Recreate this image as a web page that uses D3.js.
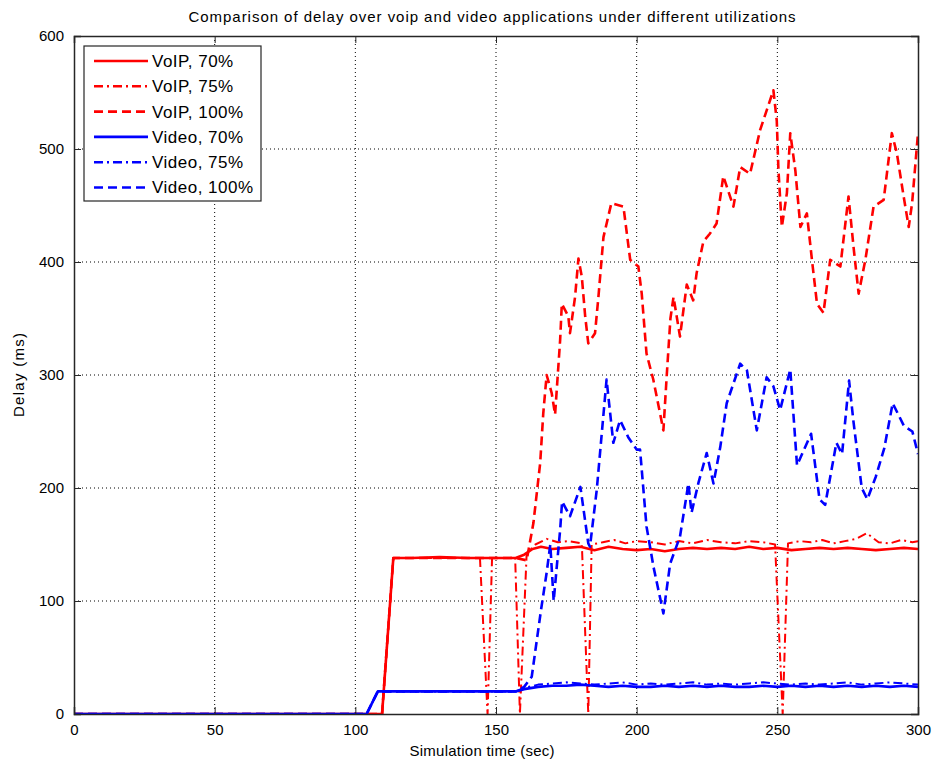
<!DOCTYPE html>
<html>
<head>
<meta charset="utf-8">
<script src="https://cdn.jsdelivr.net/npm/d3@7"></script>
<style>
  body { margin: 0; background: #fff; }
  text { font-family: "Liberation Sans", Arial, sans-serif; fill: #000; }
</style>
</head>
<body>
<div id="chart"></div>
<script>
// ---- data ----
const xTicks = [0, 50, 100, 150, 200, 250, 300];
const yTicks = [0, 100, 200, 300, 400, 500, 600];

const voip70T = [0, 109.5, 113.5, 120, 130, 140, 150, 157, 160, 163, 166, 170, 175, 180, 185, 190, 195, 200, 205, 210, 215, 220, 225, 230, 235, 240, 245, 250, 255, 260, 265, 270, 275, 280, 285, 290, 295, 300];
const voip70V = [0, 0, 138, 138, 139, 138, 138, 138, 141, 146, 148, 146, 147, 148, 145, 148, 146, 145, 146, 144, 146, 147, 146, 147, 146, 148, 146, 147, 145, 146, 147, 146, 147, 146, 145, 146, 147, 146];

const voip75T = [0, 109.5, 113.5, 125, 135, 144.3, 147, 148.6, 155, 156.8, 158.5, 160.9, 164, 168, 172, 176, 180.5, 182.8, 184, 188, 192, 196, 200, 205, 210, 215, 220, 225, 230, 235, 240, 245, 249.2, 251.9, 253.8, 258, 262, 266, 270, 274, 278, 281.8, 286, 290, 294, 298, 300];
const voip75V = [0, 0, 138, 138, 138, 138, 0, 138, 138, 139, 0, 142, 150, 155, 152, 153, 151, 0, 150, 152, 154, 151, 153, 152, 150, 153, 151, 154, 152, 151, 153, 152, 150, 0, 151, 153, 152, 154, 151, 153, 155, 160, 152, 151, 154, 152, 153];

const voip100T = [0, 109.5, 113.5, 125, 140, 150, 157, 160.9, 163.3, 165.7, 166.8, 168, 169.8, 171, 172.8, 173.4, 175.7, 176.3, 178.1, 179.3, 180.5, 181.7, 182.8, 185.2, 186.4, 188.2, 191, 195.3, 197.7, 200.6, 201.8, 203.5, 205.9, 208, 209.5, 210.7, 212, 213.1, 215.4, 217.8, 220.1, 221.3, 223.7, 226, 228.4, 230.8, 234.4, 236.8, 240.3, 243.9, 248.6, 249.8, 250.4, 251.6, 253.4, 254.6, 256.4, 258.2, 260.5, 262.3, 264.1, 266.4, 268.8, 272.4, 275.3, 277.1, 278.9, 281.3, 284.2, 287.8, 290.7, 292.5, 294.9, 296.7, 297.9, 300];
const voip100V = [0, 0, 138, 138, 138, 138, 138, 136, 169, 222, 266, 300, 284, 265, 331, 363, 352, 337, 369, 403, 387, 352, 328, 337, 369, 422, 452, 449, 402, 396, 372, 319, 296, 270, 251, 300, 350, 369, 334, 380, 366, 390, 418, 425, 434, 476, 449, 484, 478, 517, 552, 525, 481, 431, 461, 514, 481, 431, 443, 402, 363, 355, 402, 396, 458, 413, 372, 402, 449, 455, 514, 496, 458, 431, 452, 514];

const video70T = [0, 104, 108, 120, 130, 140, 150, 157, 160, 165, 170, 175, 180, 185, 190, 195, 200, 205, 210, 215, 220, 225, 230, 235, 240, 245, 250, 255, 260, 265, 270, 275, 280, 285, 290, 295, 300];
const video70V = [0, 0, 20, 20, 20, 20, 20, 20, 22, 24, 25, 25, 26, 25, 24, 25, 24, 24, 25, 24, 25, 24, 25, 24, 24, 25, 24, 25, 24, 25, 24, 25, 24, 25, 24, 25, 24];

const video75T = video70T;
const video75V = [0, 0, 20, 20, 20, 20, 20, 20, 23, 26, 27, 28, 27, 26, 27, 28, 26, 27, 26, 27, 28, 26, 27, 26, 27, 28, 27, 26, 27, 26, 27, 28, 26, 27, 28, 27, 26];

const video100T = [0, 104, 108, 120, 140, 157, 160, 162.7, 166, 168, 169.3, 170.5, 172.8, 173.5, 176.3, 180, 182.8, 183.4, 185.8, 189.3, 191.7, 194.1, 197, 200, 201.2, 203.5, 206, 209.5, 211.9, 215.4, 218.4, 219.5, 222, 224.9, 227.3, 229.7, 232, 236.8, 239.2, 242.7, 246.2, 248.6, 251, 254.6, 257, 262, 265, 267, 271, 273, 275.5, 277, 280, 282, 285, 288, 291, 295, 298, 300];
const video100V = [0, 0, 20, 20, 20, 20, 24, 33, 92, 125, 150, 100, 163, 188, 175, 201, 151, 148, 198, 296, 240, 260, 245, 234, 234, 166, 130, 89, 133, 157, 204, 178, 205, 231, 204, 236, 275, 310, 304, 251, 298, 290, 269, 305, 220, 248, 190, 185, 240, 230, 295, 260, 200, 190, 210, 235, 275, 255, 250, 230];

const seriesNames = ["VoIP, 70%", "VoIP, 75%", "VoIP, 100%", "Video, 70%", "Video, 75%", "Video, 100%"];
const seriesColors = ["#ff0000", "#ff0000", "#ff0000", "#0000ff", "#0000ff", "#0000ff"];
const seriesDash = [null, "9,4,2,4", "9,5", null, "9,4,2,4", "9,5"];
const seriesWidth = [2.6, 2, 2.6, 2.6, 2, 2.6];

const series = [
    [voip70T, voip70V], [voip75T, voip75V], [voip100T, voip100V],
    [video70T, video70V], [video75T, video75V], [video100T, video100V]
].map((s, i) => ({
    name: seriesNames[i], color: seriesColors[i], dash: seriesDash[i], sw: seriesWidth[i],
    points: s[0].map((t, j) => [t, s[1][j]])
}));

// ---- layout ----
const W = 933, H = 766;
const margin = { top: 36, right: 15, bottom: 52, left: 74 };
const width = W - margin.left - margin.right;
const height = H - margin.top - margin.bottom;

const svg = d3.select("#chart").append("svg")
    .attr("width", W)
    .attr("height", H);

const x = d3.scaleLinear().domain([0, 300]).range([0, width]);
const y = d3.scaleLinear().domain([0, 600]).range([height, 0]);

const g = svg.append("g").attr("transform", `translate(${margin.left},${margin.top})`);

// grid
g.selectAll(".vgrid").data(xTicks.slice(1, -1)).enter().append("line")
    .attr("x1", d => x(d)).attr("x2", d => x(d))
    .attr("y1", 0).attr("y2", height)
    .attr("stroke", "#000").attr("stroke-width", 1).attr("stroke-dasharray", "1,3");
g.selectAll(".hgrid").data(yTicks.slice(1, -1)).enter().append("line")
    .attr("y1", d => y(d)).attr("y2", d => y(d))
    .attr("x1", 0).attr("x2", width)
    .attr("stroke", "#000").attr("stroke-width", 1).attr("stroke-dasharray", "1,3");

// lines
g.append("defs").append("clipPath").attr("id", "clip")
    .append("rect").attr("width", width).attr("height", height);

const line = d3.line().x(d => x(d[0])).y(d => y(d[1]));

g.append("g").attr("clip-path", "url(#clip)")
    .selectAll("path").data(series).enter().append("path")
    .attr("d", d => line(d.points))
    .attr("fill", "none")
    .attr("stroke", d => d.color)
    .attr("stroke-width", d => d.sw)
    .attr("stroke-linejoin", "round")
    .attr("stroke-dasharray", d => d.dash);

// axes (ticks inward, MATLAB style)
const tickLen = 7;
const axB = g.append("g").attr("transform", `translate(0,${height})`)
    .call(d3.axisBottom(x).tickValues(xTicks).tickSize(-tickLen).tickPadding(10));
const axL = g.append("g")
    .call(d3.axisLeft(y).tickValues(yTicks).tickSize(-tickLen).tickPadding(10));
const axT = g.append("g")
    .call(d3.axisTop(x).tickValues(xTicks).tickSize(-tickLen).tickFormat(""));
const axR = g.append("g").attr("transform", `translate(${width},0)`)
    .call(d3.axisRight(y).tickValues(yTicks).tickSize(-tickLen).tickFormat(""));

[axB, axL, axT, axR].forEach(a => {
    a.select(".domain").attr("stroke", "#262626").attr("stroke-width", 1.5);
    a.selectAll(".tick line").attr("stroke", "#262626");
    a.selectAll("text").attr("font-size", 15).attr("fill", "#000")
        .style("font-family", '"Liberation Sans", Arial, sans-serif');
});

// titles
svg.append("text")
    .attr("x", 492).attr("y", 22)
    .attr("text-anchor", "middle").attr("font-size", 15)
    .attr("textLength", 607).attr("lengthAdjust", "spacing")
    .text("Comparison of delay over voip and video applications under different utilizations");

svg.append("text")
    .attr("x", 482).attr("y", 756)
    .attr("text-anchor", "middle").attr("font-size", 15)
    .attr("textLength", 145).attr("lengthAdjust", "spacing")
    .text("Simulation time (sec)");

svg.append("text")
    .attr("transform", `translate(24,${margin.top + height / 2}) rotate(-90)`)
    .attr("text-anchor", "middle").attr("font-size", 15)
    .attr("textLength", 84).attr("lengthAdjust", "spacing")
    .text("Delay (ms)");

// legend
const lg = svg.append("g").attr("transform", "translate(84,46)");
lg.append("rect")
    .attr("width", 177).attr("height", 155)
    .attr("fill", "#fff").attr("stroke", "#262626").attr("stroke-width", 1.2);

const rows = lg.selectAll(".row").data(series).enter().append("g")
    .attr("transform", (d, i) => `translate(0,${15 + i * 25.3})`);
rows.append("line")
    .attr("x1", 10).attr("x2", 64)
    .attr("stroke", d => d.color).attr("stroke-width", 2.6)
    .attr("stroke-dasharray", d => d.dash);
rows.append("text")
    .attr("x", 68).attr("dy", "0.35em").attr("font-size", 17)
    .attr("letter-spacing", 0.5)
    .text(d => d.name);
</script>
</body>
</html>
